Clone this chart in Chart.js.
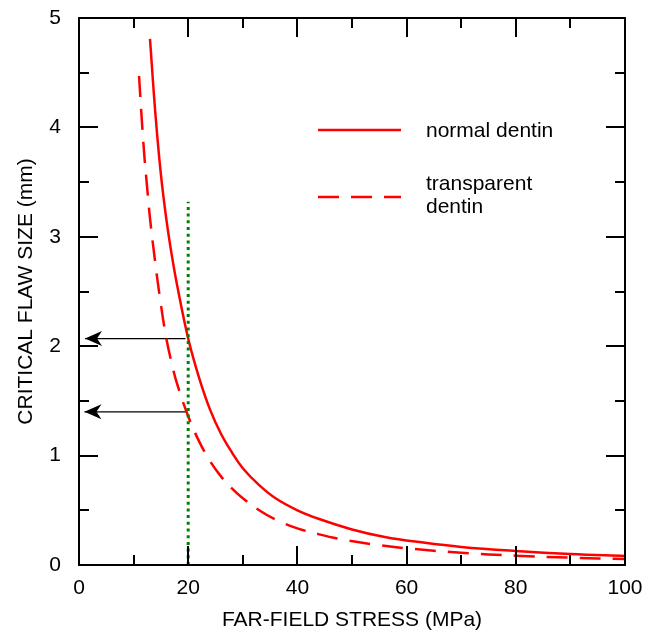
<!DOCTYPE html>
<html>
<head>
<meta charset="utf-8">
<script src="https://cdn.jsdelivr.net/npm/chart.js@4.4.1/dist/chart.umd.min.js"></script>
<style>
html, body { margin: 0; padding: 0; background: #fff; }
</style>
</head>
<body>
<canvas id="flawChart" width="656" height="633"></canvas>
<script>
// values: far-field stress (MPa) vs critical flaw size (mm)
var normalStress = [13, 14, 15, 16, 17, 18, 20, 22, 24, 26, 28, 30, 33, 36, 40, 44, 50, 56, 63, 70, 80, 90, 100];
var normalFlaw   = [4.81, 4.12, 3.57, 3.16, 2.83, 2.55, 2.07, 1.71, 1.42, 1.20, 1.03, 0.885, 0.73, 0.61, 0.50, 0.42, 0.325, 0.256, 0.205, 0.165, 0.128, 0.10, 0.082];

var transStress = [11, 11.5, 12, 12.5, 13, 14, 15, 16, 17, 18, 20, 22, 24, 26, 28, 30, 33, 36, 40, 44, 48, 54, 60, 70, 80, 90, 100];
var transFlaw   = [4.47, 4.07, 3.72, 3.44, 3.17, 2.75, 2.38, 2.07, 1.84, 1.65, 1.36, 1.13, 0.95, 0.81, 0.70, 0.61, 0.50, 0.415, 0.335, 0.28, 0.236, 0.188, 0.153, 0.112, 0.085, 0.067, 0.055];

// dotted marker at 20 MPa and the two read-off arrows
var markerStress = [20, 20];
var markerFlaw   = [0, 3.32];
var arrowFrom    = [19.5, 19.8];
var arrowTo      = [1.1, 1.0];
var arrowFlaw    = [2.07, 1.40];

var xTickLabels = [0, 20, 40, 60, 80, 100];
var yTickLabels = [0, 1, 2, 3, 4, 5];

var FONT = 'Liberation Sans, Arial, Helvetica, sans-serif';

function pairs(xs, ys) {
    return xs.map(function(x, i) { return { x: x, y: ys[i] }; });
}

// box round the plot with inward ticks on all four sides
var framePlugin = {
    id: 'frame',
    afterDraw: function(chart) {
        var c = chart.ctx, a = chart.chartArea;
        var xs = chart.scales.x, ys = chart.scales.y;
        function seg(x1, y1, x2, y2) {
            c.beginPath(); c.moveTo(x1, y1); c.lineTo(x2, y2); c.stroke();
        }
        c.save();
        c.strokeStyle = '#000';
        c.lineWidth = 2;
        xs.ticks.forEach(function(t) {
            var px = Math.round(xs.getPixelForValue(t.value));
            var len = xTickLabels.indexOf(t.value) >= 0 ? 19 : 10;
            seg(px, a.bottom, px, a.bottom - len);
            seg(px, a.top, px, a.top + len);
        });
        ys.ticks.forEach(function(t) {
            var py = Math.round(ys.getPixelForValue(t.value));
            var len = yTickLabels.indexOf(t.value) >= 0 ? 19 : 10;
            seg(a.left, py, a.left + len, py);
            seg(a.right, py, a.right - len, py);
        });
        c.strokeRect(a.left, a.top, a.right - a.left, a.bottom - a.top);
        c.restore();
    }
};

// barbed arrow heads at the end of datasets flagged with arrowHead
var arrowPlugin = {
    id: 'arrows',
    afterDatasetsDraw: function(chart) {
        var c = chart.ctx;
        chart.data.datasets.forEach(function(ds, i) {
            if (!ds.arrowHead) return;
            var pts = chart.getDatasetMeta(i).data;
            var tip = pts[pts.length - 1], prev = pts[pts.length - 2];
            var ang = Math.atan2(prev.y - tip.y, prev.x - tip.x);
            c.save();
            c.translate(tip.x, tip.y);
            c.rotate(ang);
            c.fillStyle = '#000';
            c.beginPath();
            c.moveTo(0, 0);
            c.lineTo(17, -7.5);
            c.lineTo(12, 0);
            c.lineTo(17, 7.5);
            c.closePath();
            c.fill();
            c.restore();
        });
    }
};

// legend inside the plot, as in the figure (normal row first)
var legendRows = [
    { lineY: 130, textY: [137] },
    { lineY: 197, textY: [190, 213] }
];
var legendPlugin = {
    id: 'insideLegend',
    afterDraw: function(chart) {
        var c = chart.ctx;
        var curves = chart.data.datasets.filter(function(d) { return d.legendRow !== undefined; });
        c.save();
        c.font = '21px ' + FONT;
        c.textBaseline = 'alphabetic';
        c.textAlign = 'left';
        c.fillStyle = '#000';
        curves.forEach(function(ds) {
            var r = legendRows[ds.legendRow];
            c.strokeStyle = ds.borderColor;
            c.lineWidth = ds.borderWidth;
            c.setLineDash(ds.borderDash || []);
            c.beginPath();
            c.moveTo(318, r.lineY);
            c.lineTo(401, r.lineY);
            c.stroke();
            [].concat(ds.label).forEach(function(txt, k) {
                c.fillText(txt, 426, r.textY[k]);
            });
        });
        c.restore();
    }
};

var datasets = [
    {
        label: 'marker',
        data: pairs(markerStress, markerFlaw),
        borderColor: '#008000',
        borderWidth: 3,
        borderDash: [3, 3.7],
        pointRadius: 0
    },
    {
        label: ['transparent', 'dentin'],
        legendRow: 1,
        data: pairs(transStress, transFlaw),
        borderColor: '#ff0000',
        borderWidth: 2.5,
        borderDash: [21, 12],
        tension: 0.4,
        pointRadius: 0
    },
    {
        label: 'normal dentin',
        legendRow: 0,
        data: pairs(normalStress, normalFlaw),
        borderColor: '#ff0000',
        borderWidth: 2.5,
        tension: 0.4,
        pointRadius: 0
    }
];

arrowFlaw.forEach(function(y, i) {
    datasets.push({
        label: 'arrow' + i,
        arrowHead: true,
        data: pairs([arrowFrom[i], arrowTo[i]], [y, y]),
        borderColor: '#000',
        borderWidth: 1.3,
        pointRadius: 0
    });
});

function noPad(s) {
    s.paddingTop = 0; s.paddingBottom = 0;
    s.paddingLeft = 0; s.paddingRight = 0;
}

var chart = new Chart(document.getElementById('flawChart'), {
    type: 'line',
    data: { datasets: datasets },
    plugins: [framePlugin, arrowPlugin, legendPlugin],
    options: {
        responsive: false,
        animation: false,
        devicePixelRatio: 1,
        layout: { padding: { top: 18, right: 31, left: 0, bottom: 0 } },
        plugins: {
            legend: { display: false },
            tooltip: { enabled: false }
        },
        scales: {
            x: {
                type: 'linear',
                min: 0,
                max: 100,
                afterFit: function(s) { s.height = 68; noPad(s); },
                grid: { display: false, drawTicks: false },
                border: { display: false },
                ticks: {
                    stepSize: 10,
                    padding: 11,
                    color: '#000',
                    font: { family: FONT, size: 21 },
                    maxRotation: 0,
                    autoSkip: false,
                    callback: function(v) { return xTickLabels.indexOf(v) >= 0 ? String(v) : ''; }
                },
                title: {
                    display: true,
                    text: 'FAR-FIELD STRESS (MPa)',
                    color: '#000',
                    font: { family: FONT, size: 21 },
                    padding: { top: 0, bottom: 0 }
                }
            },
            y: {
                type: 'linear',
                min: 0,
                max: 5,
                afterFit: function(s) { s.width = 79; noPad(s); },
                grid: { display: false, drawTicks: false },
                border: { display: false },
                ticks: {
                    stepSize: 0.5,
                    padding: 18,
                    color: '#000',
                    font: { family: FONT, size: 21 },
                    autoSkip: false,
                    callback: function(v) { return yTickLabels.indexOf(v) >= 0 ? String(v) : ''; }
                },
                title: {
                    display: true,
                    text: 'CRITICAL FLAW SIZE (mm)',
                    color: '#000',
                    font: { family: FONT, size: 21 },
                    padding: { top: 14, bottom: 0 }
                }
            }
        }
    }
});
</script>
</body>
</html>
